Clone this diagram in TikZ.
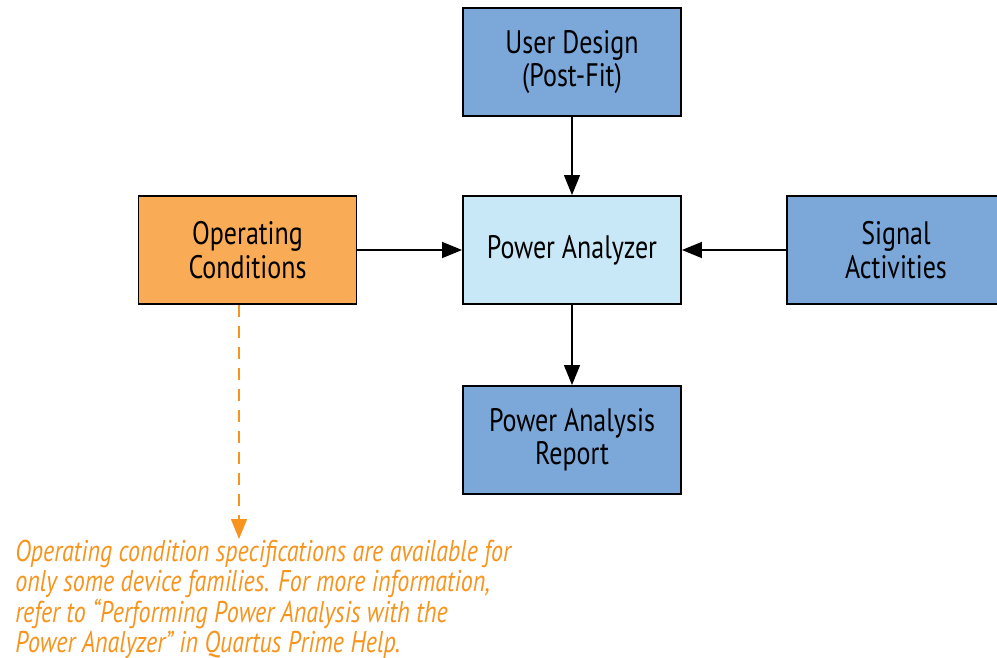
\documentclass[tikz,border=0pt]{standalone}
\usepackage{fontspec}
\setmainfont{PT Sans}[FakeStretch=0.8]
\usetikzlibrary{arrows.meta, positioning}
\definecolor{flowblue}{HTML}{7BA7D9}
\definecolor{flowlight}{HTML}{C8E8F8}
\definecolor{floworange}{HTML}{F9AC55}
\definecolor{notetext}{HTML}{F7941D}
\tikzset{
    flow box/.style = {draw, line width=1.1pt, minimum width=4.36cm, minimum height=2.16cm,
        align=center, font=\fontsize{18.5}{19}\selectfont, inner sep=0pt},
    flow edge/.style = {draw, line width=0.8pt, -{Triangle[length=0.4cm, width=0.32cm]}},
}

\begin{document}
\begin{tikzpicture}[x=0.02cm, y=-0.02cm]
        \useasboundingbox (0, 0) rectangle (997, 658);
        \node[flow box, fill=flowblue] (design) at (572, 62) {User Design\\(Post-Fit)};
        \node[flow box, fill=flowlight] (analyzer) at (572, 250) {Power Analyzer};
        \node[flow box, fill=floworange] (conditions) at (247.5, 250) {Operating\\Conditions};
        \node[flow box, fill=flowblue] (signals) at (896, 250) {Signal\\Activities};
        \node[flow box, fill=flowblue] (report) at (572, 440) {Power Analysis\\Report};
        \node[anchor=north west, align=left, inner sep=0pt, text=notetext,
            font=\itshape\fontsize{17.1}{15.6}\selectfont] (note) at (15, 540)
            {Operating condition specifications are available for\\
             only some device families. For more information,\\
             refer to “Performing Power Analysis with the\\
             Power Analyzer” in Quartus Prime Help.};
        \coordinate (notetip) at (239, 539);

        \draw[flow edge] (design) -- (analyzer);
        \draw[flow edge] (analyzer) -- (report);
        \draw[flow edge] (conditions) -- (analyzer);
        \draw[flow edge] (signals) -- (analyzer);
        \draw[notetext, line width=0.8pt, dash pattern=on 0.24cm off 0.18cm,
            -{Triangle[length=0.4cm, width=0.32cm]}]
            (conditions.south -| notetip) -- (notetip);
    \end{tikzpicture}
\end{document}
